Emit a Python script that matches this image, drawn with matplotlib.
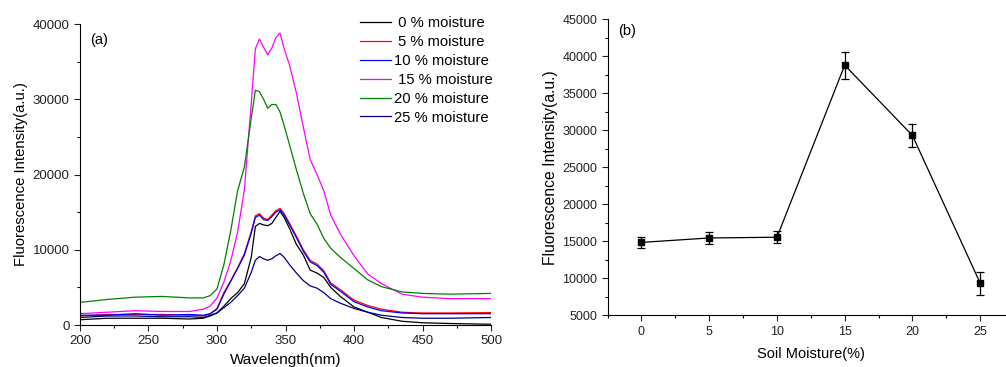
import numpy as np
import matplotlib
matplotlib.use('Agg')
import matplotlib.pyplot as plt
from matplotlib.ticker import MultipleLocator

plt.rcParams['font.family'] = ['Liberation Sans', 'DejaVu Sans']

# (a) emission spectra
wl = [200, 220, 240, 260, 280, 290, 295, 300, 305, 310, 315, 320, 325, 328, 331, 334, 337, 340,
      343, 346, 349, 353, 358, 363, 368, 373, 378, 383, 390, 400, 410, 420, 435, 450, 470, 500]
m0 = [700, 900, 900, 900, 800, 900, 1200, 1600, 2500, 3500, 4300, 5500, 9000, 13100, 13500, 13300, 13200, 13500,
      14300, 15100, 14300, 12800, 10700, 9300, 7300, 6900, 6300, 5000, 3800, 2400, 1700, 1000, 500, 300, 200, 100]
m5 = [1200, 1400, 1400, 1400, 1300, 1200, 1500, 2200, 4300, 5900, 7600, 9500, 12400, 14500, 14800, 14200, 14000, 14600,
      15200, 15500, 14800, 13500, 11800, 10000, 8600, 8100, 7200, 5600, 4700, 3300, 2600, 2100, 1700, 1600, 1600, 1650]
m10 = [1300, 1300, 1500, 1300, 1400, 1300, 1500, 2100, 4100, 5800, 7500, 9300, 12200, 14300, 14600, 14000, 13900, 14400,
       15000, 15300, 14600, 13300, 11600, 9800, 8400, 7900, 7000, 5400, 4500, 3100, 2400, 1900, 1600, 1500, 1500, 1500]
m15 = [1500, 1700, 1900, 1800, 1800, 2100, 2500, 3600, 5700, 8500, 12300, 18000, 29500, 36700, 38000, 36900, 35900, 36800,
       38200, 38800, 36700, 34500, 30800, 26300, 22000, 20000, 17800, 14600, 12100, 9200, 6800, 5500, 4100, 3700, 3500, 3500]
m20 = [3000, 3400, 3700, 3800, 3600, 3600, 3900, 4800, 8000, 12500, 17800, 21000, 27500, 31200, 31000, 30000, 28800, 29300,
       29300, 28300, 26500, 23900, 20600, 17500, 14800, 13400, 11500, 10200, 9000, 7500, 6000, 5100, 4400, 4200, 4100, 4200]
m25 = [1000, 1200, 1200, 1100, 1100, 1000, 1300, 1600, 2300, 3000, 3900, 4900, 7000, 8600, 9100, 8800, 8600, 8800,
       9200, 9500, 9000, 8000, 6900, 5900, 5200, 4900, 4300, 3500, 2900, 2200, 1700, 1300, 1000, 900, 900, 1000]

labels = [' 0 % moisture', ' 5 % moisture', '10 % moisture', ' 15 % moisture', '20 % moisture', '25 % moisture']
colors = ['#000000', '#ff0000', '#0000ff', '#ff00ff', '#008000', '#000080']

# (b) peak intensity vs soil moisture
moist = [0, 5, 10, 15, 20, 25]
peak = [14850, 15450, 15550, 38800, 29300, 9350]
err = [700, 850, 800, 1800, 1500, 1550]

fig = plt.figure(figsize=(10.06, 3.67), dpi=100)

ax1 = fig.add_axes([0.0795, 0.1144, 0.4086, 0.8202])
for y, lab, c in zip([m0, m5, m10, m15, m20, m25], labels, colors):
    ax1.plot(wl, y, color=c, lw=0.9, label=lab)
ax1.set_xlim(200, 500)
ax1.set_ylim(0, 40000)
ax1.xaxis.set_major_locator(MultipleLocator(50))
ax1.xaxis.set_minor_locator(MultipleLocator(25))
ax1.yaxis.set_major_locator(MultipleLocator(10000))
ax1.yaxis.set_minor_locator(MultipleLocator(5000))
ax1.set_xlabel('Wavelength(nm)', fontsize=11, labelpad=4)
ax1.set_ylabel('Fluorescence Intensity(a.u.)', fontsize=10.7, labelpad=3)
ax1.text(0.025, 0.97, '(a)', transform=ax1.transAxes, fontsize=10.5, va='top')
ax1.legend(loc='upper right', bbox_to_anchor=(1.018, 1.045), frameon=False, fontsize=10.6,
           handlelength=2.1, handletextpad=0.2, labelspacing=0.33, borderaxespad=0)

ax2 = fig.add_axes([0.604, 0.1409, 0.404, 0.8065])
ax2.errorbar(moist, peak, yerr=err, color='black', lw=0.9, marker='s', markersize=5,
             capsize=3, elinewidth=0.9, capthick=0.9)
ax2.set_xlim(-2.5, 27.5)
ax2.set_ylim(5000, 45000)
ax2.xaxis.set_major_locator(MultipleLocator(5))
ax2.xaxis.set_minor_locator(MultipleLocator(2.5))
ax2.yaxis.set_major_locator(MultipleLocator(5000))
ax2.yaxis.set_minor_locator(MultipleLocator(2500))
ax2.set_xlabel('Soil Moisture(%)', fontsize=10.5, labelpad=7)
ax2.set_ylabel('Fluorescence Intensity(a.u.)', fontsize=11.3, labelpad=3)
ax2.text(0.025, 0.985, '(b)', transform=ax2.transAxes, fontsize=10.5, va='top')

for ax in (ax1, ax2):
    ax.spines['top'].set_visible(False)
    ax.spines['right'].set_visible(False)
    ax.tick_params(which='major', direction='out', length=4, width=0.8, labelsize=9.5, colors='#222222')
    ax.tick_params(which='minor', direction='out', length=2.5, width=0.8)
ax2.tick_params(labelsize=9)

fig.savefig('out.png', dpi=100)
